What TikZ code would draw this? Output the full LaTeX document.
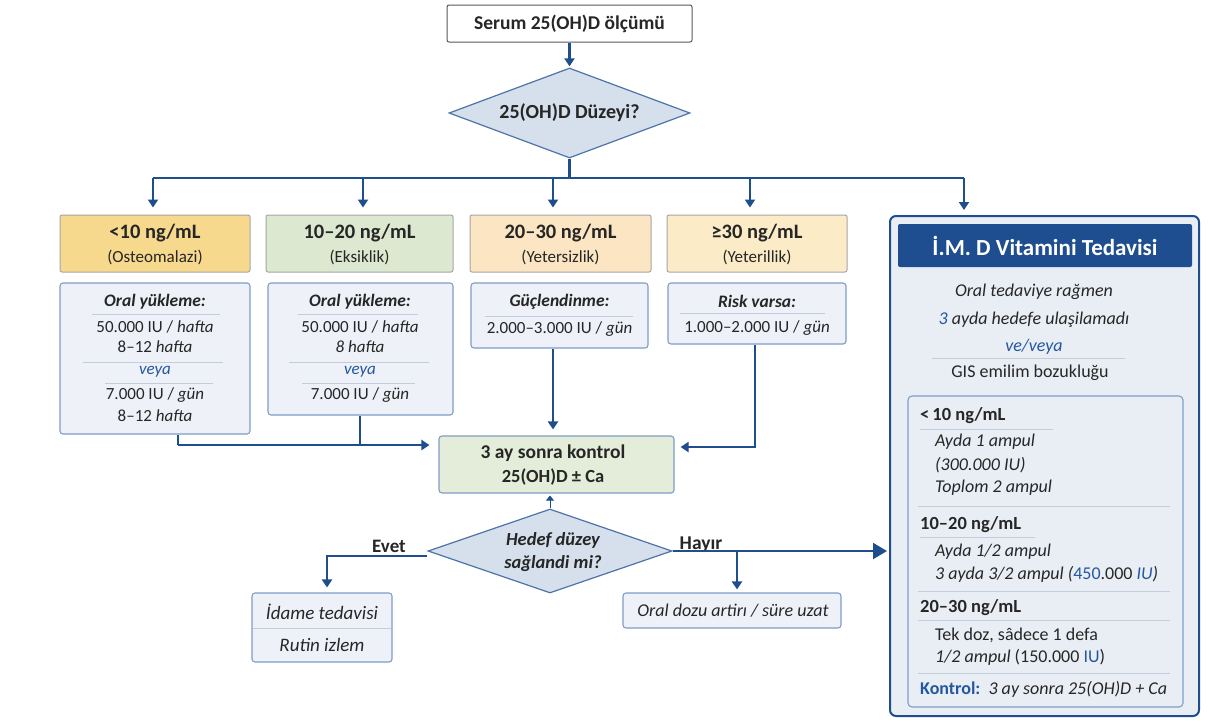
\documentclass[tikz,border=0pt]{standalone}
\usepackage{fontspec}
\setmainfont{Carlito}
\usetikzlibrary{arrows.meta,shapes.geometric,calc}

\definecolor{flow}{HTML}{1F4E8D}
\definecolor{ink}{HTML}{262626}
\definecolor{boxline}{HTML}{7F9DC7}
\definecolor{boxfill}{HTML}{EEF2F8}
\definecolor{rulec}{HTML}{C3CCDA}
\definecolor{amber}{HTML}{F7D98D}
\definecolor{sage}{HTML}{DCE8D0}
\definecolor{peach}{HTML}{FBE5C3}
\definecolor{cream}{HTML}{FCEBC7}
\definecolor{mint}{HTML}{E3EDD9}
\definecolor{dia}{HTML}{D6E0EC}
\definecolor{diaedge}{HTML}{4D74A8}
\definecolor{navy}{HTML}{1E4D90}
\definecolor{panelfill}{HTML}{E9EEF5}
\definecolor{accent}{HTML}{2457A0}

\newcommand\fsz[1]{\fontsize{#1}{#1}\selectfont}

\tikzset{
  flowline/.style={draw=flow, line width=2.2pt},
  tip/.style={-{Triangle[length=8pt,width=10pt]}},
  catbox/.style={draw=black!35, rounded corners=2pt, line width=1pt, inner sep=0pt},
  txbox/.style={draw=boxline, fill=boxfill, rounded corners=3pt, line width=1.1pt, inner sep=0pt},
  divider/.style={draw=rulec, line width=0.8pt},
  txt/.style={inner sep=0pt, text=ink, font=\fsz{17}},
  txti/.style={txt, font=\fsz{17}\itshape},
  txtbi/.style={txt, font=\fsz{17.5}\bfseries\itshape},
  cattitle/.style={txt, font=\fsz{20.5}\bfseries},
  catsub/.style={txt, font=\fsz{17}},
  ptxt/.style={txt, font=\fsz{18}},
  ptxti/.style={txt, font=\fsz{18}\itshape},
  phead/.style={txt, anchor=west, font=\fsz{18.5}\bfseries},
}

\begin{document}
\begin{tikzpicture}[x=1pt,y=-1pt]
\useasboundingbox[fill=white] (0,0) rectangle (1210,721);

% --- measurement and first decision ---
\node[draw=black!65, fill=white, rounded corners=2pt, line width=1pt,
      minimum width=245pt, minimum height=37pt, inner sep=0pt,
      text=ink, font=\fsz{19.5}\bfseries] (meas) at (569.5,23.5) {Serum 25(OH)D ölçümü};
\node[diamond, draw=diaedge, fill=dia, line width=1.2pt, aspect=2.68,
      minimum width=241pt, minimum height=90pt, inner sep=0pt] (lvl) at (569.5,113) {};
\node[txt, font=\fsz{20}\bfseries] (lvlt) at (lvl.center) {25(OH)D Düzeyi?};
\draw[flowline, tip, shorten >=1pt] (meas.south) -- (lvl.north);

% --- distribution bus ---
\coordinate (split) at (569.5,178);
\coordinate (b1) at (153,178);
\coordinate (b2) at (363,178);
\coordinate (b3) at (553,178);
\coordinate (b4) at (750,178);
\coordinate (b5) at (964,178);
\draw[flowline] (lvl.south) -- (split);
\draw[flowline] (b1) -- (b5);

% --- level boxes ---
\node[catbox, fill=amber, minimum width=190pt, minimum height=57pt] (c1) at (155,243.5) {};
\node[catbox, fill=sage,  minimum width=187pt, minimum height=57pt] (c2) at (359.5,243.5) {};
\node[catbox, fill=peach, minimum width=181pt, minimum height=57pt] (c3) at (560.5,243.5) {};
\node[catbox, fill=cream, minimum width=180pt, minimum height=57pt] (c4) at (757,243.5) {};
\node[cattitle] (c1t) at (155,233) {<10 ng/mL};
\node[catsub]   (c1s) at (155,257) {(Osteomalazi)};
\node[cattitle] (c2t) at (359.5,233) {10–20 ng/mL};
\node[catsub]   (c2s) at (359.5,257) {(Eksiklik)};
\node[cattitle] (c3t) at (560.5,233) {20–30 ng/mL};
\node[catsub]   (c3s) at (560.5,257) {(Yetersizlik)};
\node[cattitle] (c4t) at (757,233) {≥30 ng/mL};
\node[catsub]   (c4s) at (757,257) {(Yeterillik)};

\draw[flowline, tip, shorten >=7pt] (b1) -- (b1 |- c1.north);
\draw[flowline, tip, shorten >=7pt] (b2) -- (b2 |- c2.north);
\draw[flowline, tip, shorten >=7pt] (b3) -- (b3 |- c3.north);
\draw[flowline, tip, shorten >=7pt] (b4) -- (b4 |- c4.north);

% --- treatment boxes ---
\node[txbox, minimum width=190pt, minimum height=151pt] (t1) at (155,358.5) {};
\node[txbox, minimum width=185pt, minimum height=132pt] (t2) at (360.5,349) {};
\node[txbox, minimum width=177pt, minimum height=65pt] (t3) at (559.5,315.5) {};
\node[txbox, minimum width=178pt, minimum height=61pt] (t4) at (757,313.5) {};

\node[txtbi] (t1a) at (155,302) {Oral yükleme:};
\draw[divider] (92,314) -- (220,314);
\node[txt] (t1b) at (155,327) {50.000 IU / \textit{hafta}};
\node[txt] (t1c) at (155,347) {8–12 \textit{hafta}};
\draw[divider] (83,362) -- (223,362);
\node[txti, text=accent] (t1d) at (155,372) {veya};
\draw[divider] (105,383) -- (213,383);
\node[txt] (t1e) at (155,395) {7.000 IU / \textit{gün}};
\node[txt] (t1f) at (155,416) {8–12 \textit{hafta}};

\node[txtbi] (t2a) at (360,302) {Oral yükleme:};
\draw[divider] (298,314) -- (418,314);
\node[txt] (t2b) at (360,327) {50.000 IU / \textit{hafta}};
\node[txti] (t2c) at (360,347) {8 hafta};
\draw[divider] (289,362) -- (429,362);
\node[txti, text=accent] (t2d) at (360,372) {veya};
\draw[divider] (302,383) -- (415,383);
\node[txt] (t2e) at (360,395) {7.000 IU / \textit{gün}};

\node[txtbi] (t3a) at (559.5,302) {Güçlendinme:};
\draw[divider] (485,316) -- (633,316);
\node[txt] (t3b) at (559.5,329) {2.000–3.000 IU / \textit{gün}};

\node[txtbi] (t4a) at (757,301) {Risk varsa:};
\draw[divider] (680,313) -- (825,313);
\node[txt] (t4b) at (757,328) {1.000–2.000 IU / \textit{gün}};

% --- follow-up check ---
\node[draw=boxline, fill=mint, rounded corners=3pt, line width=1.1pt,
      minimum width=235pt, minimum height=57pt, inner sep=0pt] (k) at (556.5,464.5) {};
\node[txt, font=\fsz{19.5}\bfseries] (ka) at (553,453) {3 ay sonra kontrol};
\node[txt, font=\fsz{18.5}\bfseries] (kb) at (553,477) {25(OH)D ± Ca};

\coordinate (j1) at (178,445);
\coordinate (j2) at (360,445);
\coordinate (j4) at (755,447);
\draw[flowline] (j1 |- t1.south) -- (j1);
\draw[flowline] (j2 |- t2.south) -- (j2);
\draw[flowline, tip, shorten >=9pt] (j1) -- (j1 -| k.west);
\draw[flowline, tip, shorten >=6pt] (t3.south -| b3) -- (b3 |- k.north);
\draw[flowline, tip, shorten >=6pt] (j4 |- t4.south) -- (j4) -- (j4 -| k.east);

% --- second decision ---
\node[diamond, draw=diaedge, fill=dia, line width=1.2pt, aspect=2.9,
      minimum width=244pt, minimum height=84pt, inner sep=0pt] (q) at (550,551) {};
\node[txt, font=\fsz{18.5}\bfseries\itshape] (qa) at (553,540) {Hedef düzey};
\node[txt, font=\fsz{18.5}\bfseries\itshape] (qb) at (553,564) {sağlandi mi?};
\draw[flow, line width=0.8pt, -{Triangle[length=5pt,width=8pt]}, shorten >=2pt]
  (q.north) -- (q.north |- k.south);

% yes branch
\node[txbox, minimum width=140pt, minimum height=69pt] (idame) at (322,627.5) {};
\draw[divider] (253,628) -- (391,628);
\node[txt, font=\fsz{19}\itshape] (ida) at (322,612) {İdame tedavisi};
\node[txt, font=\fsz{19}\itshape] (idb) at (322,645) {Rutin izlem};
\coordinate (ev) at (327,556);
\draw[flowline, line width=2pt, tip, shorten >=5pt] (q.west |- ev) -- (ev) -- (ev |- idame.north);
\node[txt, font=\fsz{19}\bfseries] (evet) at (389,546) {Evet};

% no branch
\node[txbox, minimum width=218pt, minimum height=35pt] (oral) at (732,610.5) {};
\node[txt, font=\fsz{18}\itshape] (orala) at (733,611) {Oral dozu artirı / süre uzat};
\node[txt, font=\fsz{19.5}\bfseries] (hayir) at (701,545) {Hayır};

% --- intramuscular panel ---
\node[draw=navy, fill=panelfill, rounded corners=6pt, line width=2pt,
      minimum width=309pt, minimum height=500pt, inner sep=0pt] (panel) at (1044.5,466) {};
\node[fill=navy, rounded corners=2pt, minimum width=294pt, minimum height=43pt,
      inner sep=0pt, text=white, font=\fsz{23}\bfseries] (head) at (1045,245.5) {İ.M. D Vitamini Tedavisi};
\draw[flowline, tip, shorten >=5pt] (b5) -- (b5 |- panel.north);

\coordinate (hb) at (737,551);
\draw[flowline, line width=2pt, -{Triangle[length=14pt,width=16pt]}, shorten >=2pt]
  (q.east) -- (q.east -| panel.west);
\draw[flowline, line width=2pt, tip, shorten >=3pt] (hb) -- (hb |- oral.north);

\node[ptxti] (pa) at (1034,292) {Oral tedaviye rağmen};
\node[ptxti] (pb) at (1034,320) {\textcolor{accent}{3} ayda hedefe ulaşilamadı};
\node[ptxti, text=accent] (pc) at (1034,347) {ve/veya};
\draw[divider] (932,358) -- (1125,358);
\node[ptxt] (pd) at (1030,373) {GIS emilim bozukluğu};

\node[draw=boxline, fill=panelfill, rounded corners=4pt, line width=1.1pt,
      minimum width=275pt, minimum height=311pt, inner sep=0pt] (inner) at (1045.5,551.5) {};

\node[phead] (s1) at (920,416) {<\,10 ng/mL};
\draw[divider] (920,429) -- (1053,429);
\node[ptxti, anchor=west] (s1a) at (935,442) {Ayda 1 ampul};
\node[ptxti, anchor=west] (s1b) at (935,465) {(300.000 IU)};
\node[ptxti, anchor=west] (s1c) at (935,488) {Toplom 2 ampul};
\draw[divider] (918,506) -- (1170,506);

\node[phead] (s2) at (920,525) {10–20 ng/mL};
\draw[divider] (920,537) -- (1035,537);
\node[ptxti, anchor=west] (s2a) at (935,552) {Ayda 1/2 ampul};
\node[ptxt, anchor=west] (s2b) at (935,574) {\textit{3 ayda 3/2 ampul (}\textcolor{accent}{450}.000 \textcolor{accent}{\textit{IU}}\textit{)}};
\draw[divider] (918,591) -- (1170,591);

\node[phead] (s3) at (920,608) {20–30 ng/mL};
\draw[divider] (918,620) -- (1170,620);
\node[ptxt, anchor=west] (s3a) at (935,635) {Tek doz, sâdece 1 defa};
\node[ptxt, anchor=west] (s3b) at (935,657) {\textit{1/2 ampul} (150.000 \textcolor{accent}{IU})};
\draw[divider] (918,673) -- (1170,673);

\node[ptxt, anchor=west] (ctl) at (920,689) {\textcolor{accent}{\bfseries Kontrol:}\ \ \textit{3 ay sonra 25(OH)D + Ca}};
\end{tikzpicture}
\end{document}
